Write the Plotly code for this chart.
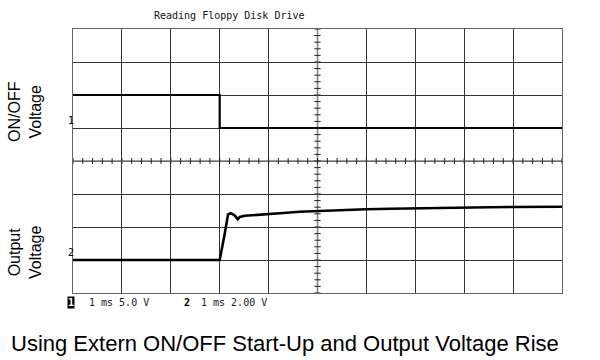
import plotly.graph_objects as go
import numpy as np

# ---- data (time in ms relative to ON/OFF edge, voltages in V) ----
ch1_t = [-3.0, 0.0, 0.0, 7.0]
ch1_v = [5.0, 5.0, 0.0, 0.0]

ch2_t = [-3.0, 0.0, 0.10, 0.17, 0.22, 0.30, 0.37, 0.41, 0.51, 0.75, 0.98, 1.30, 1.63,
         2.00, 2.45, 2.99, 3.50, 3.99, 4.50, 4.99, 5.50, 5.99, 6.50, 7.0]
ch2_v = [0.0, 0.0, 1.55, 2.75, 2.84, 2.72, 2.47, 2.61, 2.68, 2.72, 2.76, 2.85, 2.92,
         2.97, 3.04, 3.08, 3.11, 3.14, 3.16, 3.18, 3.20, 3.21, 3.22, 3.23]

title_text = "Reading Floppy Disk Drive"
caption_text = "Using Extern ON/OFF Start-Up and Output Voltage Rise"
label1 = "ON/OFF<br>Voltage"
label2 = "Output<br>Voltage"
scale1_text = "1 ms 5.0 V"
scale2_text = "1 ms 2.00 V"

# ---- layout geometry ----
W, H = 600, 360
L, R, T, B = 73, 38, 29, 67
pw, ph = W - L - R, H - T - B


def px(x):
    return (x - L) / pw


def py(y):
    return (H - B - y) / ph


mono = "DejaVu Sans Mono"
sans = "Liberation Sans, Arial"

fig = go.Figure()

# centre graticule ticks (on ch1 axis scale: 5 V/div, ground at +1 div)
tx, ty = [], []
for t in np.arange(-3, 7.0001, 0.2):
    tx += [t, t, None]
    ty += [-5 - 0.45, -5 + 0.45, None]
for v in np.arange(-25, 15.0001, 1.0):
    tx += [2 - 0.065, 2 + 0.065, None]
    ty += [v, v, None]
fig.add_trace(go.Scatter(x=[-3, 7, None, 2, 2], y=[-5, -5, None, -25, 15], mode="lines",
                         line=dict(color="#808080", width=1.5), hoverinfo="skip",
                         showlegend=False))
fig.add_trace(go.Scatter(x=tx, y=ty, mode="lines", line=dict(color="#222", width=1),
                         hoverinfo="skip", showlegend=False))

fig.add_trace(go.Scatter(x=ch1_t, y=ch1_v, mode="lines", line=dict(color="black", width=2.2),
                         showlegend=False, yaxis="y"))
fig.add_trace(go.Scatter(x=ch2_t, y=ch2_v, mode="lines", line=dict(color="black", width=2.6),
                         showlegend=False, yaxis="y2"))

# trigger marker
fig.add_trace(go.Scatter(x=[0], y=[-25.9], mode="markers",
                         marker=dict(symbol="triangle-up", size=5, color="black"),
                         cliponaxis=False, showlegend=False, hoverinfo="skip"))

axis_common = dict(showticklabels=False, ticks="", zeroline=False, showline=True,
                   mirror=True, linecolor="#666", linewidth=1.2)


def ann(text, x, y, font, **kw):
    d = dict(text=text, x=px(x), y=py(y), xref="paper", yref="paper",
             xanchor="center", yanchor="middle", showarrow=False, font=font)
    d.update(kw)
    return d


f_mono = dict(family=mono, size=10, color="#222")
f_lab = dict(family=sans, size=16, color="black")

fig.update_layout(
    width=W, height=H,
    margin=dict(l=L, r=R, t=T, b=B),
    paper_bgcolor="white", plot_bgcolor="white",
    xaxis=dict(range=[-3, 7], dtick=1, tick0=-3, showgrid=True, gridcolor="#333",
               gridwidth=1, **axis_common),
    yaxis=dict(range=[-25, 15], dtick=5, tick0=-25, showgrid=True, gridcolor="#333",
               gridwidth=1, **axis_common),
    yaxis2=dict(range=[-2, 14], overlaying="y", showgrid=False, showticklabels=False,
                zeroline=False, ticks=""),
    annotations=[
        ann(title_text, 229, 16, dict(family=mono, size=10, color="#111")),
        ann(label1, 25, 112, f_lab, textangle=-90),
        ann(label2, 25, 253, f_lab, textangle=-90),
        ann("1", 70.5, 120, dict(family=mono, size=10, color="black")),
        ann("2", 70.5, 252, dict(family=mono, size=10, color="black")),
        ann("<b>1</b>", 70.5, 302, dict(family=mono, size=10, color="white"),
            bgcolor="black", borderpad=0),
        ann(scale1_text, 87, 302, f_mono, xanchor="left"),
        ann("<b>2</b>", 186.5, 302, dict(family=mono, size=10, color="black")),
        ann(scale2_text, 199, 302, f_mono, xanchor="left"),
        ann(caption_text, 285, 343, dict(family=sans, size=22, color="black")),
    ],
)

fig.write_html("out.html")
